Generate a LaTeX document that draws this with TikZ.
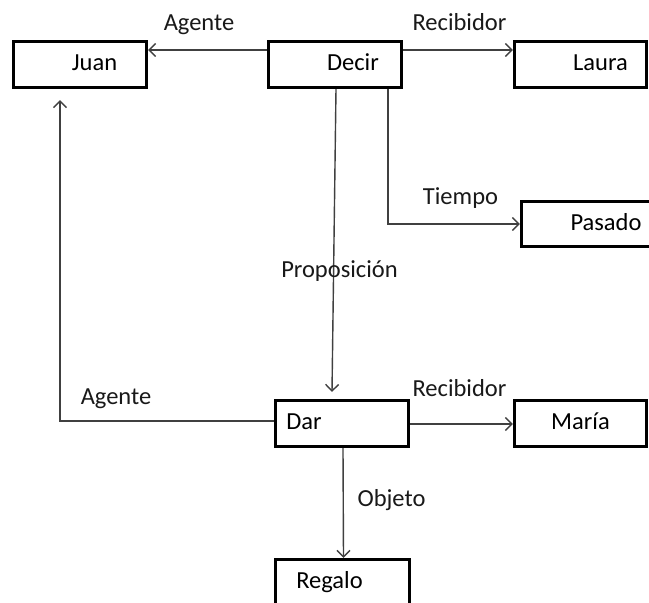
\documentclass[tikz,border=0pt]{standalone}
\usepackage{fontspec}
\setmainfont{Carlito}
\usetikzlibrary{arrows.meta}
\tikzset{
  box/.style={draw=black, line width=3.2pt, inner sep=0pt, minimum width=133pt, minimum height=46pt,
    text height=14pt, text depth=2pt, font=\fontsize{24.5}{29}\selectfont},
  lbl/.style={inner sep=0pt, anchor=base, font=\fontsize{24.5}{29}\selectfont, text=black!90},
  conn/.style={draw=black!75, line width=1.4pt, -{Straight Barb[length=6.5pt,width=13pt,line width=1.4pt]}}
}
\begin{document}
\begin{tikzpicture}[x=1pt,y=-1pt]
\useasboundingbox (0,0) rectangle (649,603);
\clip (0,0) rectangle (649,603);
\fill[white] (0,0) rectangle (649,603);
% boxes
\node[box] (juan) at (80,64.5) {\hspace*{29pt}Juan};
\node[box] (decir) at (335,64.5) {\hspace*{36pt}Decir};
\node[box, minimum width=132pt] (laura) at (580.5,64.5) {\hspace*{40pt}Laura};
\node[box, minimum width=141pt, minimum height=45pt] (pasado) at (592,224) {\hspace*{28pt}Pasado};
\node[box] (dar) at (342,423.5) {Dar\hspace*{76pt}};
\node[box, minimum width=132pt] (maria) at (580.5,423.5) {María};
\node[box, minimum width=134pt] (regalo) at (342.5,582.5) {Regalo\hspace*{26pt}};
% connectors
\draw[conn] ([yshift=14.5pt]decir.west) -- ([yshift=14.5pt]juan.east);
\draw[conn] ([yshift=14.5pt]decir.east) -- ([yshift=14.5pt]laura.west);
\draw[conn] ([xshift=1pt]decir.south) -- ([xshift=-10pt,yshift=7pt]dar.north);
\draw[conn] ([xshift=53pt]decir.south) |- (pasado.west);
\draw[conn] ([yshift=2.5pt]dar.west) -| ([xshift=-20pt,yshift=-11pt]juan.south);
\draw[conn] ([yshift=-0.5pt]dar.east) -- ([yshift=-0.5pt]maria.west);
\draw[conn] ([xshift=1pt]dar.south) -- ([xshift=1pt]regalo.north);
% labels
\node[lbl] (lagente1) at (199,30) {Agente};
\node[lbl] (lrecib1) at (459.5,30.5) {Recibidor};
\node[lbl] (ltiempo) at (460.5,204) {Tiempo};
\node[lbl] (lprop) at (339.5,277) {Proposición};
\node[lbl] (lagente2) at (116,404) {Agente};
\node[lbl] (lrecib2) at (459.5,396) {Recibidor};
\node[lbl] (lobjeto) at (391.5,506.5) {Objeto};
\end{tikzpicture}
\end{document}
